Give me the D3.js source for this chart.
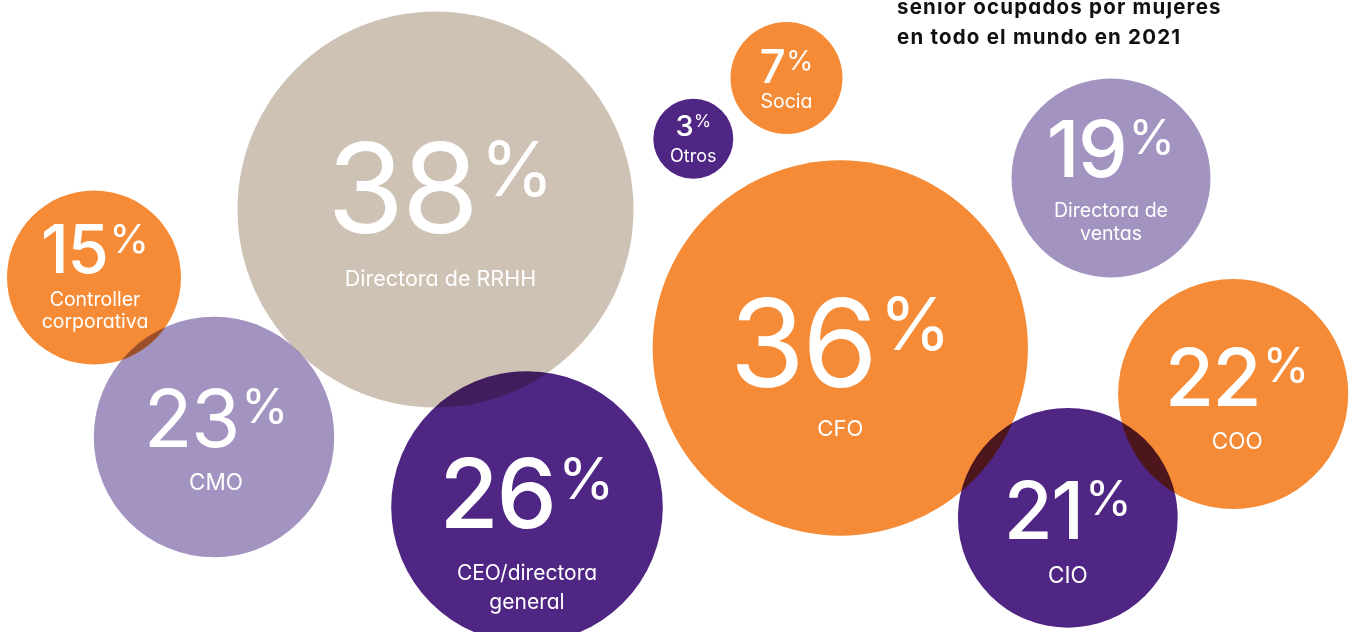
<!DOCTYPE html>
<html>
<head>
<meta charset="utf-8">
<script src="https://cdn.jsdelivr.net/npm/d3@7/dist/d3.min.js"></script>
<style>
  html, body { margin: 0; padding: 0; background: #ffffff; }
  svg { display: block; }
  text { font-family: Inter, "Noto Sans", sans-serif; font-feature-settings: "cv11" 1; }
</style>
</head>
<body>
<svg id="chart" width="1352" height="632"></svg>
<script>
// ---- data ----
const categories = ["Controller corporativa", "CMO", "Directora de RRHH", "CEO/directora general", "Otros", "Socia", "CFO", "Directora de ventas", "CIO", "COO"];
const values = [15, 23, 38, 26, 3, 7, 36, 19, 21, 22];
const labelLines = [["Controller", "corporativa"], ["CMO"], ["Directora de RRHH"], ["CEO/directora", "general"], ["Otros"], ["Socia"], ["CFO"], ["Directora de", "ventas"], ["CIO"], ["COO"]];
const titleLines = ["senior ocupados por mujeres", "en todo el mundo en 2021"];

// ---- layout & style (not data) ----
const colorList = ["#f58b36", "#a393c1", "#cec2b4", "#502684", "#502684", "#f58b36", "#f58b36", "#a393c1", "#502684", "#f58b36"];
const layout = [
  {cx: 94,     cy: 277.5, num: -4.2, lab: 28.2, ls: 19.5, lh: 22.6, w: 500, dx: 1},
  {cx: 214,    cy: 437,   num: 9.7,  lab: 53,   ls: 22.5, lh: 27,   w: 400, dx: 2},
  {cx: 435.5,  cy: 209.5, num: 23.7, lab: 76,   ls: 21.5, lh: 27,   w: 400, dx: 5},
  {cx: 527,    cy: 507,   num: 21,   lab: 73,   ls: 21,   lh: 29,   w: 450, dx: 0},
  {cx: 693.3,  cy: 138.7, num: -2.7, lab: 23,   ls: 18,   lh: 22,   w: 500, dx: 0},
  {cx: 786.5,  cy: 78,    num: 5.3,  lab: 30.3, ls: 19.5, lh: 22,   w: 500, dx: 0},
  {cx: 840.3,  cy: 348,   num: 38.7, lab: 88,   ls: 22,   lh: 27,   w: 400, dx: 0},
  {cx: 1111,   cy: 178,   num: -0.7, lab: 38.7, ls: 19.5, lh: 23.3, w: 500, dx: 0},
  {cx: 1067.8, cy: 517.8, num: 21.5, lab: 65,   ls: 22.5, lh: 27,   w: 500, dx: 0},
  {cx: 1233.2, cy: 394,   num: 12,   lab: 55.3, ls: 22.5, lh: 27,   w: 450, dx: 4}
];

const rScale = d3.scaleLinear().domain([3, 7, 15, 19, 38]).range([40, 56, 87, 99.5, 198]);
const numSize = d3.scaleLinear().domain([3, 7, 15, 19, 23, 26, 36, 38]).range([29, 46, 67, 79, 80, 96, 122, 125]);
const color = d3.scaleOrdinal().domain(categories).range(colorList);

const data = categories.map((c, i) => ({cat: c, v: values[i], lines: labelLines[i], ...layout[i]}));

const svg = d3.select("#chart");
svg.append("rect").attr("width", 1352).attr("height", 632).attr("fill", "#ffffff");

const circles = svg.append("g").style("isolation", "isolate");
circles.selectAll("circle").data(data).join("circle")
  .attr("cx", d => d.cx).attr("cy", d => d.cy)
  .attr("r", d => rScale(d.v))
  .attr("fill", d => color(d.cat))
  .style("mix-blend-mode", "multiply");

const labels = svg.append("g");
data.forEach(d => {
  const g = labels.append("g");
  const s = numSize(d.v);
  const base = d.cy + d.num;
  const num = g.append("text").attr("y", base).attr("fill", "#fff")
    .attr("font-size", s).attr("font-weight", d.w).attr("letter-spacing", -s * 0.02).text(d.v);
  const ps = s * 0.6;
  const pct = g.append("text").attr("y", base - 0.3 * s).attr("fill", "#fff")
    .attr("font-size", ps).attr("font-weight", 400).text("%");
  const w1 = num.node().getComputedTextLength();
  const w2 = pct.node().getComputedTextLength();
  const gap = s * 0.03;
  const x0 = d.cx - (w1 + gap + w2) / 2 + d.dx;
  num.attr("x", x0);
  pct.attr("x", x0 + w1 + gap);
  d.lines.forEach((ln, k) => {
    g.append("text").attr("x", d.cx + d.dx).attr("y", d.cy + d.lab + k * d.lh)
      .attr("text-anchor", "middle").attr("fill", "#fff")
      .attr("font-size", d.ls).attr("font-weight", 400).text(ln);
  });
});

svg.append("g").selectAll("text").data(titleLines).join("text")
  .attr("x", 897).attr("y", (d, i) => 14 + i * 30)
  .attr("font-size", 20.5).attr("font-weight", 700).attr("letter-spacing", 1.2).attr("fill", "#111111")
  .text(d => d);
</script>
</body>
</html>
